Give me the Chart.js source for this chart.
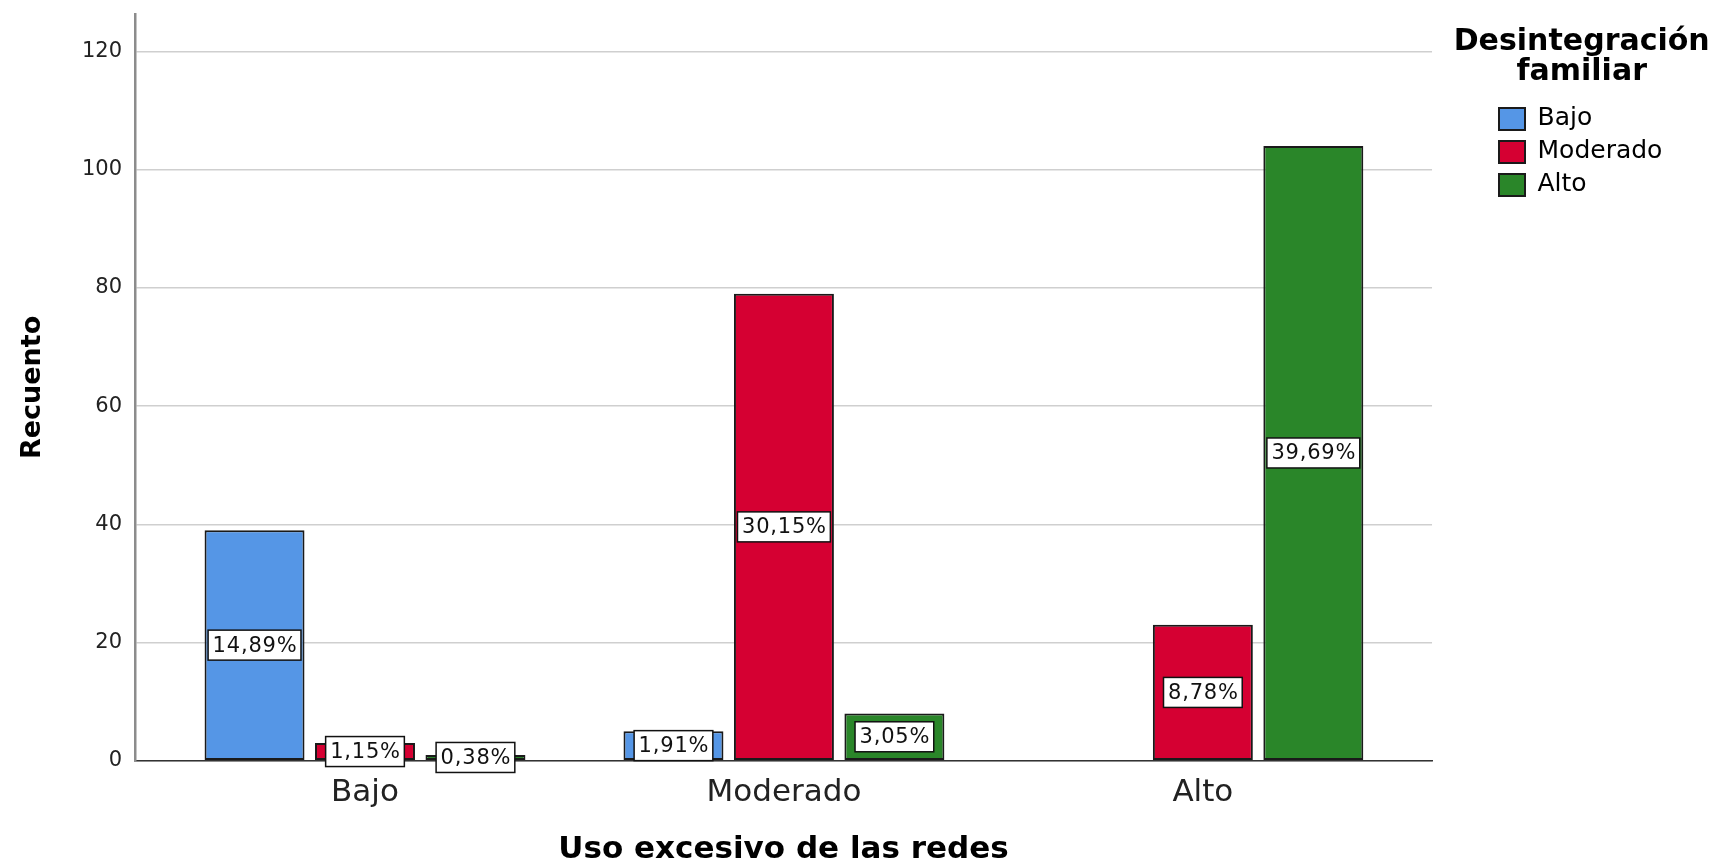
<!DOCTYPE html>
<html>
<head>
<meta charset="utf-8">
<script src="https://cdn.jsdelivr.net/npm/chart.js@4.4.1/dist/chart.umd.min.js"></script>
<style>
  html, body { margin: 0; padding: 0; background: #ffffff; }
  #box { width: 1721px; height: 865px; position: relative; }
</style>
</head>
<body>
<div id="box"><canvas id="myChart"></canvas></div>
<script>
const categorias = ['Bajo', 'Moderado', 'Alto'];
const grupos = ['Bajo', 'Moderado', 'Alto'];
const valoresBajo = [39, 5, 0];
const valoresModerado = [3, 79, 23];
const valoresAlto = [1, 8, 104];
const ticksY = [0, 20, 40, 60, 80, 100, 120];
const tituloLeyenda = ['Desintegración', 'familiar'];

const colores = ['#5596e6', '#d50032', '#2a8629'];
const series = [valoresBajo, valoresModerado, valoresAlto];

var total = 0;
for (var i = 0; i < series.length; i++) {
  for (var j = 0; j < series[i].length; j++) total += series[i][j];
}

const datasets = [];
for (var i = 0; i < grupos.length; i++) {
  datasets.push({
    label: grupos[i],
    data: series[i].map(function(v, k) { return {x: k, y: v}; }),
    backgroundColor: colores[i],
    borderColor: '#1a1a1a',
    borderWidth: 2,
    borderSkipped: false,
    categoryPercentage: 0.791,
    barPercentage: 0.905
  });
}

// etiquetas de porcentaje en caja blanca
const etiquetas = {
  id: 'etiquetas',
  afterDatasetsDraw: function(chart) {
    const ctx = chart.ctx;
    ctx.save();
    ctx.font = '21px "DejaVu Sans"';
    ctx.letterSpacing = '0.8px';
    ctx.textAlign = 'center';
    ctx.textBaseline = 'middle';
    chart.data.datasets.forEach(function(ds, i) {
      chart.getDatasetMeta(i).data.forEach(function(el, k) {
        const v = ds.data[k].y;
        if (!v) return;
        const txt = (v / total * 100).toFixed(2).replace('.', ',') + '%';
        const w = ctx.measureText(txt).width + 8;
        const h = 30;
        const cy = (el.y + el.base) / 2;
        ctx.fillStyle = '#ffffff';
        ctx.fillRect(el.x - w / 2, cy - h / 2, w, h);
        ctx.strokeStyle = '#111111';
        ctx.lineWidth = 1.5;
        ctx.strokeRect(el.x - w / 2, cy - h / 2, w, h);
        ctx.fillStyle = '#111111';
        ctx.fillText(txt, el.x + 0.5, cy + 1);
      });
    });
    ctx.restore();
  }
};

// titulo de la leyenda (la leyenda de Chart.js recorta su titulo)
const tituloPlugin = {
  id: 'tituloPlugin',
  afterDraw: function(chart) {
    const lg = chart.legend;
    const ctx = chart.ctx;
    ctx.save();
    ctx.font = 'bold 30px "DejaVu Sans"';
    ctx.fillStyle = '#000000';
    ctx.textAlign = 'center';
    ctx.textBaseline = 'middle';
    const cx = lg.left + lg.width / 2;
    for (var i = 0; i < tituloLeyenda.length; i++) {
      ctx.fillText(tituloLeyenda[i], cx, lg.top + 29 + i * 30);
    }
    ctx.restore();
  }
};

const config = {
  type: 'bar',
  data: { datasets: datasets },
  options: {
    responsive: true,
    maintainAspectRatio: false,
    animation: false,
    layout: { padding: { top: 13, right: 48.6, bottom: 0, left: 0 } },
    scales: {
      x: {
        type: 'linear',
        offset: false,
        min: -0.549,
        max: 2.547,
        afterBuildTicks: function(s) {
          s.ticks = categorias.map(function(c, k) { return {value: k}; });
        },
        grid: { display: false, drawTicks: false, offset: false },
        border: { display: true, color: '#333333', width: 1.5 },
        ticks: {
          padding: 14,
          color: '#222222',
          font: { family: 'DejaVu Sans', size: 31 },
          callback: function(v) { return categorias[v]; }
        },
        title: {
          display: true,
          text: 'Uso excesivo de las redes',
          color: '#000000',
          font: { family: 'DejaVu Sans', size: 31, weight: 'bold', lineHeight: 1.0 },
          padding: { top: 8, bottom: 0 }
        }
      },
      y: {
        min: 0,
        max: 126.3,
        afterBuildTicks: function(s) {
          s.ticks = ticksY.map(function(v) { return {value: v}; });
        },
        afterFit: function(s) { s.width = 135; },
        grid: { color: '#cfcfcf', lineWidth: 1.5, drawTicks: false },
        border: { color: '#8c8c8c', width: 2.5 },
        ticks: {
          padding: 13,
          color: '#222222',
          font: { family: 'DejaVu Sans', size: 21, lineHeight: 0.1 }
        },
        title: {
          display: true,
          text: 'Recuento',
          color: '#000000',
          font: { family: 'DejaVu Sans', size: 27, weight: 'bold' },
          padding: { top: 17, bottom: 0 }
        }
      },
      yR: {
        position: 'right',
        grid: { display: false, drawTicks: false },
        border: { display: false },
        ticks: { display: false },
        afterFit: function(s) { s.width = 59; }
      }
    },
    plugins: {
      tooltip: { enabled: false },
      legend: {
        position: 'right',
        align: 'start',
        labels: {
          boxWidth: 26,
          boxHeight: 22,
          padding: 8,
          color: '#000000',
          font: { family: 'DejaVu Sans', size: 25 }
        },
        title: {
          display: true,
          text: ' ',
          font: { family: 'DejaVu Sans', size: 27, weight: 'bold', lineHeight: 1.11 },
          padding: { top: 15.5, bottom: 40 }
        }
      }
    }
  },
  plugins: [etiquetas, tituloPlugin]
};

var myChart = new Chart(document.getElementById('myChart'), config);
</script>
</body>
</html>
